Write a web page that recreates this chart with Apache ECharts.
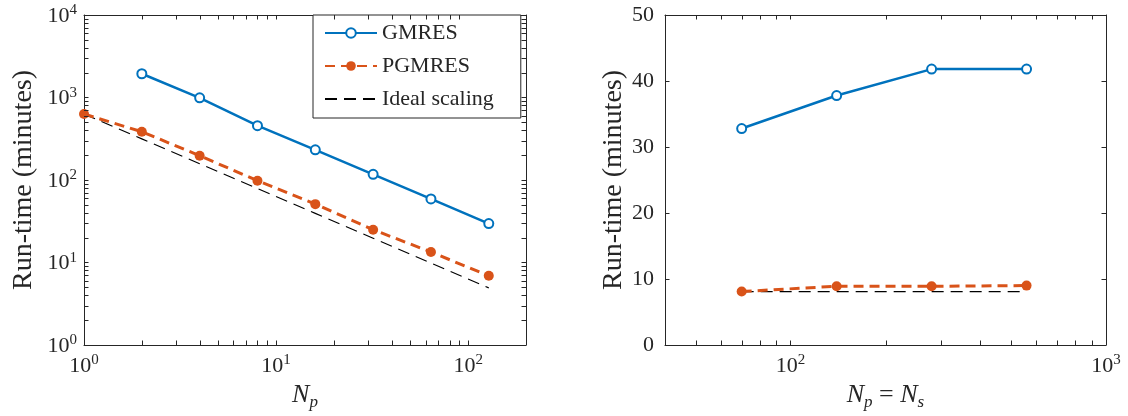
<!DOCTYPE html>
<html>
<head>
<meta charset="utf-8">
<script src="https://cdn.jsdelivr.net/npm/echarts@6/dist/echarts.min.js"></script>
<style>
  html, body { margin: 0; padding: 0; background: #fff; }
  #chart { width: 1128px; height: 416px; }
</style>
</head>
<body>
<div id="chart"></div>
<script>
// strong scaling (left panel)
var strongNp = [1, 2, 4, 8, 16, 32, 64, 128];
var strongGmres = [null, 1940, 990, 455, 232, 117, 59, 29.6];
var strongPgmres = [630, 385, 197, 98, 51, 25, 13.4, 6.9];
var strongIdeal = [630, 315, 157.5, 78.8, 39.4, 19.7, 9.84, 4.92];

// weak scaling (right panel)
var weakNp = [70, 140, 280, 560];
var weakGmres = [32.8, 37.8, 41.8, 41.8];
var weakPgmres = [8.1, 8.9, 8.9, 9.0];
var weakIdeal = [8.1, 8.1, 8.1, 8.1];

// minor tick positions on the log axes
var leftXMinor = [2, 3, 4, 5, 6, 7, 8, 9, 20, 30, 40, 50, 60, 70, 80, 90];
var leftYMinor = [2, 3, 4, 5, 6, 7, 8, 9, 20, 30, 40, 50, 60, 70, 80, 90,
  200, 300, 400, 500, 600, 700, 800, 900, 2000, 3000, 4000, 5000, 6000, 7000, 8000, 9000];
var rightXMinor = [50, 60, 70, 80, 90, 200, 300, 400, 500, 600, 700, 800, 900];

var FONT = 'Liberation Serif';
var INK = '#262626';
var BLUE = '#0072BD';
var ORANGE = '#D95319';
var TICK = 4.5;

function pairs(xs, ys) {
  var out = [];
  for (var i = 0; i < xs.length; i++) {
    if (ys[i] != null) out.push([xs[i], ys[i]]);
  }
  return out;
}

function powLabel(v) {
  var e = Math.log10(v);
  if (Math.abs(e - Math.round(e)) > 1e-6) return '';
  return '{b|10}{s|' + Math.round(e) + '}';
}

var powRich = {
  b: { fontFamily: FONT, fontSize: 22, color: INK, lineHeight: 24, verticalAlign: 'bottom' },
  s: { fontFamily: FONT, fontSize: 15, color: INK, lineHeight: 15, verticalAlign: 'top' }
};

var nameRich = {
  i: { fontFamily: FONT, fontStyle: 'italic', fontSize: 26, color: INK, lineHeight: 32, verticalAlign: 'middle' },
  sub: { fontFamily: FONT, fontStyle: 'italic', fontSize: 17, color: INK, lineHeight: 16, verticalAlign: 'bottom' },
  r: { fontFamily: FONT, fontSize: 26, color: INK, lineHeight: 32, verticalAlign: 'middle' }
};

function boxAxis(type, pos, gridIndex, min, max, interval) {
  var a = {
    type: type, gridIndex: gridIndex, position: pos, min: min, max: max,
    axisLine: { show: true, onZero: false, lineStyle: { color: INK, width: 1 } },
    axisTick: { show: true, inside: true, length: TICK, lineStyle: { color: INK } },
    axisLabel: { show: false },
    splitLine: { show: false }
  };
  if (interval) a.interval = interval;
  if (type === 'log') a.logBase = 10;
  return a;
}

function minorTicks(dir, values, xIdx, yIdx, ref) {
  return {
    type: 'custom', xAxisIndex: xIdx, yAxisIndex: yIdx, silent: true, clip: false, z: 5,
    data: values.map(function (v) { return dir === 'x' ? [v, ref] : [ref, v]; }),
    renderItem: function (params, api) {
      var cs = params.coordSys;
      var p = api.coord([api.value(0), api.value(1)]);
      var st = { stroke: INK, lineWidth: 1 };
      if (dir === 'x') {
        var x = Math.round(p[0]) + 0.5;
        return { type: 'group', children: [
          { type: 'line', shape: { x1: x, y1: cs.y + cs.height, x2: x, y2: cs.y + cs.height - TICK }, style: st },
          { type: 'line', shape: { x1: x, y1: cs.y, x2: x, y2: cs.y + TICK }, style: st }
        ] };
      }
      var y = Math.round(p[1]) + 0.5;
      return { type: 'group', children: [
        { type: 'line', shape: { x1: cs.x, y1: y, x2: cs.x + TICK, y2: y }, style: st },
        { type: 'line', shape: { x1: cs.x + cs.width, y1: y, x2: cs.x + cs.width - TICK, y2: y }, style: st }
      ] };
    }
  };
}

var xLeft = boxAxis('log', 'bottom', 0, 1, 200);
xLeft.axisLabel = { show: true, margin: 8, formatter: powLabel, rich: powRich, showMinLabel: true, showMaxLabel: true };
xLeft.name = '{i|N}{sub|p}';
xLeft.nameLocation = 'middle';
xLeft.nameGap = 34;
xLeft.nameTextStyle = { rich: nameRich };

var yLeft = boxAxis('log', 'left', 0, 1, 10000);
yLeft.axisLabel = { show: true, margin: 7, formatter: powLabel, rich: powRich };
yLeft.name = 'Run-time (minutes)';
yLeft.nameLocation = 'middle';
yLeft.nameGap = 46;
yLeft.nameTextStyle = { fontFamily: FONT, fontSize: 28, color: INK };

var xRight = boxAxis('log', 'bottom', 1, 40, 1000);
xRight.axisLabel = { show: true, margin: 8, formatter: powLabel, rich: powRich, showMinLabel: true, showMaxLabel: true };
xRight.name = '{i|N}{sub|p}{r| = }{i|N}{sub|s}';
xRight.nameLocation = 'middle';
xRight.nameGap = 34;
xRight.nameTextStyle = { rich: nameRich };

var yRight = boxAxis('value', 'left', 1, 0, 50, 10);
yRight.axisLabel = { show: true, margin: 11, fontFamily: FONT, fontSize: 22, color: INK };
yRight.name = 'Run-time (minutes)';
yRight.nameLocation = 'middle';
yRight.nameGap = 37;
yRight.nameTextStyle = { fontFamily: FONT, fontSize: 28, color: INK };

function gmresSeries(data, xi, yi) {
  return {
    name: 'GMRES', type: 'line', xAxisIndex: xi, yAxisIndex: yi, data: data,
    symbol: 'emptyCircle', symbolSize: 9, z: 4,
    lineStyle: { color: BLUE, width: 2.5 },
    itemStyle: { color: BLUE, borderColor: BLUE, borderWidth: 2.5 }
  };
}
function pgmresSeries(data, xi, yi) {
  return {
    name: 'PGMRES', type: 'line', xAxisIndex: xi, yAxisIndex: yi, data: data,
    symbol: 'circle', symbolSize: 10, z: 3,
    lineStyle: { color: ORANGE, width: 3, type: [10, 6] },
    itemStyle: { color: ORANGE }
  };
}
function idealSeries(data, xi, yi) {
  return {
    name: 'Ideal scaling', type: 'line', xAxisIndex: xi, yAxisIndex: yi, data: data,
    showSymbol: false, symbol: 'none', z: 2,
    lineStyle: { color: '#000', width: 1.2, type: [12, 7] },
    itemStyle: { color: '#000' }
  };
}

var chart = echarts.init(document.getElementById('chart'), null, { renderer: 'canvas' });
chart.setOption({
  animation: false,
  backgroundColor: '#fff',
  grid: [
    { left: 84, right: 602, top: 15, bottom: 71 },
    { left: 665, right: 22, top: 15, bottom: 71 }
  ],
  legend: {
    data: ['GMRES', 'PGMRES', { name: 'Ideal scaling', itemStyle: { opacity: 0 } }],
    orient: 'vertical', left: 313, top: 15,
    padding: [7, 27, 8, 11],
    itemWidth: 52, itemHeight: 12, itemGap: 11,
    backgroundColor: '#fff', borderColor: INK, borderWidth: 1, borderRadius: 0,
    textStyle: { fontFamily: FONT, fontSize: 22, color: INK }
  },
  xAxis: [
    xLeft,
    boxAxis('log', 'top', 0, 1, 200),
    xRight,
    boxAxis('log', 'top', 1, 40, 1000)
  ],
  yAxis: [
    yLeft,
    boxAxis('log', 'right', 0, 1, 10000),
    yRight,
    boxAxis('value', 'right', 1, 0, 50, 10)
  ],
  series: [
    idealSeries(pairs(strongNp, strongIdeal), 0, 0),
    pgmresSeries(pairs(strongNp, strongPgmres), 0, 0),
    gmresSeries(pairs(strongNp, strongGmres), 0, 0),
    idealSeries(pairs(weakNp, weakIdeal), 2, 2),
    pgmresSeries(pairs(weakNp, weakPgmres), 2, 2),
    gmresSeries(pairs(weakNp, weakGmres), 2, 2),
    minorTicks('x', leftXMinor, 0, 0, 1),
    minorTicks('y', leftYMinor, 0, 0, 1),
    minorTicks('x', rightXMinor, 2, 2, 0)
  ]
});
</script>
</body>
</html>
